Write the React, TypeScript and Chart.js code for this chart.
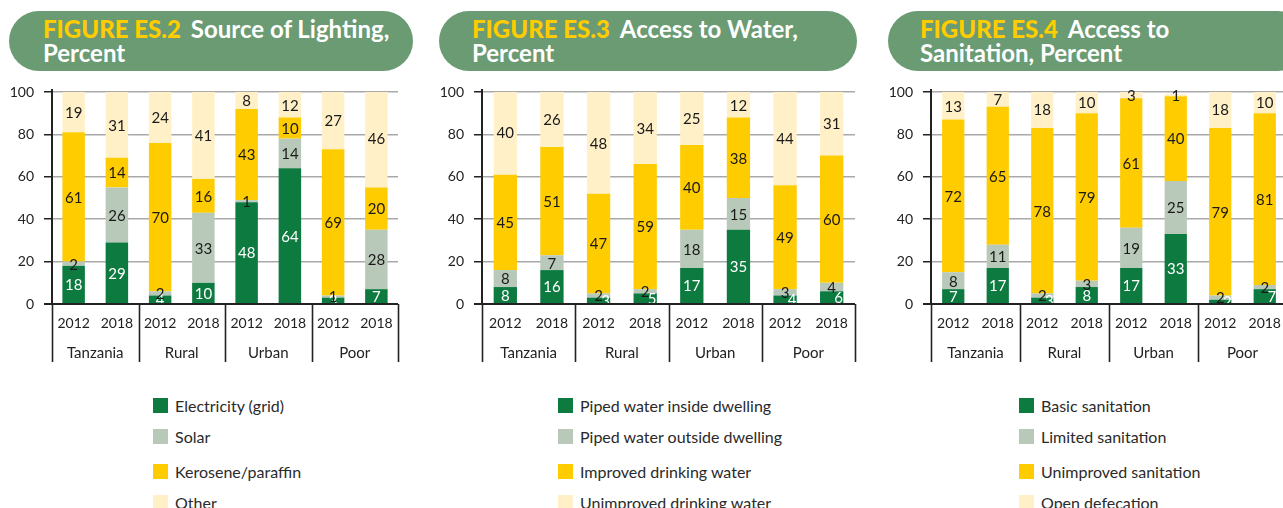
import React, { useEffect, useRef } from "react";
import { Chart, registerables } from "chart.js";

Chart.register(...registerables);

// ---------- data ----------
const groups = ["Tanzania", "Rural", "Urban", "Poor"];
const years = ["2012", "2018"];
const yTicks = [0, 20, 40, 60, 80, 100];

const lightingSeries = ["Electricity (grid)", "Solar", "Kerosene/paraffin", "Other"];
const lightingElectricity = [18, 29, 4, 10, 48, 64, 3, 7];
const lightingSolar = [2, 26, 2, 33, 1, 14, 1, 28];
const lightingKerosene = [61, 14, 70, 16, 43, 10, 69, 20];
const lightingOther = [19, 31, 24, 41, 8, 12, 27, 46];

const waterSeries = [
  "Piped water inside dwelling",
  "Piped water outside dwelling",
  "Improved drinking water",
  "Unimproved drinking water",
];
const waterInside = [8, 16, 3, 5, 17, 35, 4, 6];
const waterOutside = [8, 7, 2, 2, 18, 15, 3, 4];
const waterImproved = [45, 51, 47, 59, 40, 38, 49, 60];
const waterUnimproved = [40, 26, 48, 34, 25, 12, 44, 31];

const sanitationSeries = ["Basic sanitation", "Limited sanitation", "Unimproved sanitation", "Open defecation"];
const sanitationBasic = [7, 17, 3, 8, 17, 33, 2, 7];
const sanitationLimited = [8, 11, 2, 3, 19, 25, 2, 2];
const sanitationUnimproved = [72, 65, 78, 79, 61, 40, 79, 81];
const sanitationOpen = [13, 7, 18, 10, 3, 1, 18, 10];

// ---------- styles ----------
const seriesColors = ["#0d7a3f", "#b8c9b9", "#ffcc00", "#fff0c7"];
const FONT = "Lato, 'Noto Sans', sans-serif";
const xLabels = groups.flatMap(() => years);

const segLabels = {
  id: "segLabels",
  afterDatasetsDraw(chart: any, _a: any, opts: any) {
    const ctx = chart.ctx;
    ctx.save();
    ctx.font = `15px ${FONT}`;
    ctx.textAlign = "center";
    ctx.textBaseline = "middle";
    const dsets = chart.data.datasets;
    dsets.forEach((ds: any, di: number) => {
      const meta = chart.getDatasetMeta(di);
      meta.data.forEach((el: any, i: number) => {
        const v = ds.data[i];
        const p = el.getProps(["x", "y", "base"], true);
        let dx = 0;
        if (opts.nudge && di === 0 && v <= 7 && dsets[1].data[i] <= 4) dx = 7;
        ctx.fillStyle = di === 0 ? "#ffffff" : "#1a1a1a";
        ctx.fillText(String(v), p.x + dx, (p.y + p.base) / 2 + 1);
      });
    });
    ctx.restore();
  },
};

const groupAxis = {
  id: "groupAxis",
  afterDraw(chart: any) {
    const ctx = chart.ctx;
    const area = chart.chartArea;
    const xs = chart.scales.x;
    const ys = chart.scales.y;
    const y0 = ys.getPixelForValue(0);
    ctx.save();
    // baseline over bars
    ctx.strokeStyle = "#222";
    ctx.lineWidth = 2;
    ctx.beginPath();
    ctx.moveTo(area.left - 8, y0);
    ctx.lineTo(area.right, y0);
    ctx.stroke();
    // y axis line slightly above the top gridline
    ctx.beginPath();
    ctx.moveTo(area.left, area.top - 3);
    ctx.lineTo(area.left, y0);
    ctx.stroke();
    // year labels
    ctx.fillStyle = "#222";
    ctx.font = `14px ${FONT}`;
    ctx.textAlign = "center";
    ctx.textBaseline = "middle";
    xLabels.forEach((lab, i) => {
      ctx.fillText(lab, xs.getPixelForValue(i), y0 + 19);
    });
    // group labels + separators
    ctx.font = `15px ${FONT}`;
    ctx.lineWidth = 1.6;
    const bounds: number[] = [area.left];
    groups.forEach((g, gi) => {
      const a = xs.getPixelForValue(gi * 2);
      const b = xs.getPixelForValue(gi * 2 + 1);
      ctx.fillText(g, (a + b) / 2, y0 + 49);
      if (gi < groups.length - 1) {
        const n = xs.getPixelForValue(gi * 2 + 2);
        bounds.push((b + n) / 2);
      }
    });
    bounds.push(area.right);
    bounds.forEach((bx) => {
      ctx.beginPath();
      ctx.moveTo(Math.round(bx) + 0.5, y0);
      ctx.lineTo(Math.round(bx) + 0.5, y0 + 58);
      ctx.stroke();
    });
    ctx.restore();
  },
};

type PanelProps = {
  figure: string;
  titleLine1: string;
  titleLine2: string;
  series: string[];
  values: number[][];
  pillLeft: number;
  pillWidth: number;
  textLeft: number;
  canvasLeft: number;
  canvasWidth: number;
  areaLeft: number;
  areaRight: number;
  barPct: number;
  nudge: boolean;
  legendLeft: number;
};

const CANVAS_TOP = 80;
const CANVAS_H = 290;
const AREA_TOP = 92;
const AREA_BOTTOM = 304;
const legendRows = [405, 436, 471, 502];

function Panel(p: PanelProps) {
  const ref = useRef<HTMLCanvasElement | null>(null);
  useEffect(() => {
    if (!ref.current) return;
    const axisW = p.areaLeft - p.canvasLeft;
    const chart = new Chart(ref.current, {
      type: "bar",
      data: {
        labels: xLabels,
        datasets: p.series.map((name, i) => ({
          label: name,
          data: p.values[i],
          backgroundColor: seriesColors[i],
          borderWidth: 0,
          barPercentage: p.barPct,
          categoryPercentage: 1,
        })),
      },
      plugins: [segLabels, groupAxis],
      options: {
        animation: false,
        responsive: false,
        maintainAspectRatio: false,
        layout: {
          padding: {
            top: AREA_TOP - CANVAS_TOP,
            right: p.canvasLeft + p.canvasWidth - p.areaRight,
            bottom: CANVAS_TOP + CANVAS_H - AREA_BOTTOM,
            left: 0,
          },
        },
        plugins: {
          legend: { display: false },
          tooltip: { enabled: false },
          segLabels: { nudge: p.nudge },
        } as any,
        scales: {
          x: { stacked: true, display: false, offset: true },
          y: {
            stacked: true,
            min: yTicks[0],
            max: yTicks[yTicks.length - 1],
            afterBuildTicks: (s: any) => {
              s.ticks = yTicks.map((v) => ({ value: v }));
            },
            ticks: {
              font: { family: FONT, size: 14 },
              color: "#222",
              padding: 10,
            },
            grid: {
              color: (c: any) => (c.tick && c.tick.value === 0 ? "#222" : "#a9a9a9"),
              lineWidth: (c: any) => (c.tick && c.tick.value === 0 ? 2 : 1.5),
              tickColor: "#222",
              tickLength: 8,
              tickWidth: 1.5,
            },
            border: { display: true, color: "#222", width: 2 },
            afterFit: (s: any) => {
              s.width = axisW;
              s.paddingTop = 0;
              s.paddingBottom = 0;
            },
          },
        },
      } as any,
    });
    return () => chart.destroy();
  }, []);

  return (
    <>
      <div
        style={{
          position: "absolute",
          left: p.pillLeft,
          top: 11,
          width: p.pillWidth,
          height: 60,
          borderRadius: 30,
          background: "#6a9b73",
          boxSizing: "border-box",
          paddingLeft: p.textLeft - p.pillLeft,
          paddingTop: 6,
          fontFamily: FONT,
          fontSize: 24,
          lineHeight: "24px",
          color: "#ffffff",
          fontWeight: 700,
          whiteSpace: "nowrap",
        }}
      >
        <span style={{ color: "#ffcc00", fontWeight: 900, marginRight: 10 }}>{p.figure}</span>
        {p.titleLine1}
        <br />
        {p.titleLine2}
      </div>
      <canvas
        ref={ref}
        width={p.canvasWidth}
        height={CANVAS_H}
        style={{
          position: "absolute",
          left: p.canvasLeft,
          top: CANVAS_TOP,
          width: p.canvasWidth,
          height: CANVAS_H,
        }}
      />
      {p.series.map((name, i) => (
        <div
          key={name}
          style={{
            position: "absolute",
            left: p.legendLeft,
            top: legendRows[i] - 10,
            height: 20,
            display: "flex",
            alignItems: "center",
            fontFamily: FONT,
            fontSize: 16,
            color: "#2a2a2a",
            whiteSpace: "nowrap",
          }}
        >
          <span
            style={{
              display: "inline-block",
              width: 15,
              height: 15,
              background: seriesColors[i],
              marginRight: 7,
            }}
          />
          {name}
        </div>
      ))}
    </>
  );
}

export default function App() {
  return (
    <div
      style={{
        position: "fixed",
        left: 0,
        top: 0,
        width: 1283,
        height: 508,
        overflow: "hidden",
        background: "#ffffff",
      }}
    >
      <Panel
        figure="FIGURE ES.2"
        titleLine1="Source of Lighting,"
        titleLine2="Percent"
        series={lightingSeries}
        values={[lightingElectricity, lightingSolar, lightingKerosene, lightingOther]}
        pillLeft={9}
        pillWidth={404}
        textLeft={43}
        canvasLeft={0}
        canvasWidth={430}
        areaLeft={52}
        areaRight={398}
        barPct={0.52}
        nudge={false}
        legendLeft={153}
      />
      <Panel
        figure="FIGURE ES.3"
        titleLine1="Access to Water,"
        titleLine2="Percent"
        series={waterSeries}
        values={[waterInside, waterOutside, waterImproved, waterUnimproved]}
        pillLeft={439}
        pillWidth={418}
        textLeft={472}
        canvasLeft={430}
        canvasWidth={440}
        areaLeft={482}
        areaRight={855}
        barPct={0.5}
        nudge={true}
        legendLeft={558}
      />
      <Panel
        figure="FIGURE ES.4"
        titleLine1="Access to"
        titleLine2="Sanitation, Percent"
        series={sanitationSeries}
        values={[sanitationBasic, sanitationLimited, sanitationUnimproved, sanitationOpen]}
        pillLeft={888}
        pillWidth={420}
        textLeft={920}
        canvasLeft={870}
        canvasWidth={430}
        areaLeft={931}
        areaRight={1287}
        barPct={0.5}
        nudge={true}
        legendLeft={1019}
      />
    </div>
  );
}
